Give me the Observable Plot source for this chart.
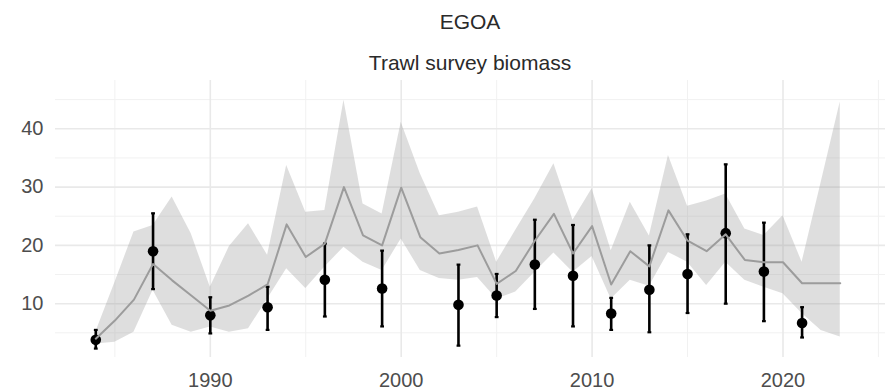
<!DOCTYPE html>
<html>
<head>
<meta charset="utf-8">
<script src="https://cdn.jsdelivr.net/npm/d3@7"></script>
<script src="https://cdn.jsdelivr.net/npm/@observablehq/plot@0.6"></script>
<style>
  html, body { margin: 0; padding: 0; background: #fff; }
  #wrap { position: relative; width: 885px; height: 390px; overflow: hidden; font-family: "Liberation Sans", Arial, sans-serif; }
  .ttl { position: absolute; left: 55px; width: 830px; text-align: center; font-size: 21px; line-height: 21px; color: #2a2a2a; white-space: nowrap; }
  #title { top: 11px; }
  #subtitle { top: 52px; }
  #chart { position: absolute; left: 0; top: 80px; }
</style>
</head>
<body>
<div id="wrap">
  <div id="title" class="ttl">EGOA</div>
  <div id="subtitle" class="ttl">Trawl survey biomass</div>
  <div id="chart"></div>
</div>
<script>
// Model estimate (grey line) and its interval (ribbon), annual
const modelYears = [1984,1985,1986,1987,1988,1989,1990,1991,1992,1993,1994,1995,1996,1997,1998,1999,2000,2001,2002,2003,2004,2005,2006,2007,2008,2009,2010,2011,2012,2013,2014,2015,2016,2017,2018,2019,2020,2021,2022,2023];
const modelEst   = [4.0,7.1,10.7,16.8,14.0,11.4,8.8,9.7,11.4,13.3,23.6,18.0,20.3,30.0,21.7,20.0,29.9,21.4,18.6,19.2,20.0,13.4,15.6,20.8,25.4,18.6,23.3,13.3,19.0,16.4,26.0,20.8,19.0,21.9,17.5,17.1,17.1,13.5,13.5,13.5];
const modelUpper = [5.1,13.6,22.3,23.4,28.3,22.0,12.8,19.8,23.7,18.3,33.7,25.7,26.0,44.9,27.1,25.4,41.1,32.3,25.1,25.7,26.6,17.1,22.6,28.0,34.0,24.3,29.7,19.1,27.4,21.6,35.4,26.7,27.6,28.8,22.8,21.7,25.1,17.1,30.8,44.6];
const modelLower = [3.1,3.4,5.1,12.3,6.3,5.1,6.0,5.1,5.7,10.8,16.0,12.6,16.3,19.7,17.1,15.7,21.1,15.7,14.3,14.0,14.5,10.8,12.0,15.4,18.7,15.4,18.1,10.8,14.0,13.0,18.8,17.1,13.1,17.1,14.0,12.8,11.7,8.3,5.4,4.3];

// Survey observations (black points with error bars)
const surveyYears = [1984,1987,1990,1993,1996,1999,2003,2005,2007,2009,2011,2013,2015,2017,2019,2021];
const surveyObs   = [3.8,19.0,8.0,9.4,14.1,12.6,9.8,11.4,16.7,14.8,8.3,12.4,15.1,22.1,15.5,6.7];
const surveyLo    = [2.3,12.5,4.9,5.5,7.8,6.1,2.8,7.7,9.1,6.1,5.5,5.1,8.4,10.0,7.0,4.2];
const surveyHi    = [5.5,25.5,11.1,12.9,20.3,19.1,16.7,15.1,24.4,23.5,11.0,20.0,21.9,33.9,23.9,9.4];

// Axis ticks / gridlines
const xTicks = [1990, 2000, 2010, 2020];
const xMinor = [1985, 1995, 2005, 2015, 2025];
const yTicks = [10, 20, 30, 40];
const yMinor = [5, 15, 25, 35, 45];

const model = modelYears.map((year, i) => ({year, est: modelEst[i], hi: modelUpper[i], lo: modelLower[i]}));
const survey = surveyYears.map((year, i) => ({year, obs: surveyObs[i], lo: surveyLo[i], hi: surveyHi[i]}));

const capHalf = 0.1;

const chart = Plot.plot({
  width: 885,
  height: 310,
  marginTop: 0,
  marginBottom: 33,
  marginLeft: 55,
  marginRight: 0,
  style: {fontFamily: "'Liberation Sans', Arial, sans-serif", fontSize: "20px", color: "#4d4d4d", background: "#fff", overflow: "visible"},
  x: {domain: [1981.89, 2025.37], ticks: xTicks, tickFormat: d => String(d), label: null, tickSize: 0, tickPadding: 15},
  y: {domain: [0.77, 48.28], ticks: yTicks, label: null, tickSize: 0, tickPadding: 12},
  marks: [
    Plot.ruleY(yMinor, {stroke: "#f1f1f1", strokeWidth: 1}),
    Plot.ruleX(xMinor, {stroke: "#f1f1f1", strokeWidth: 1}),
    Plot.ruleY(yTicks, {stroke: "#e9e9e9", strokeWidth: 1.6}),
    Plot.ruleX(xTicks, {stroke: "#e9e9e9", strokeWidth: 1.6}),
    Plot.areaY(model, {x: "year", y1: "lo", y2: "hi", fill: "#999", fillOpacity: 0.32}),
    Plot.ruleX(survey, {x: "year", y1: "lo", y2: "hi", stroke: "#000", strokeWidth: 2.6}),
    Plot.link(survey, {x1: d => d.year - capHalf, x2: d => d.year + capHalf, y1: "hi", y2: "hi", stroke: "#000", strokeWidth: 2.2}),
    Plot.link(survey, {x1: d => d.year - capHalf, x2: d => d.year + capHalf, y1: "lo", y2: "lo", stroke: "#000", strokeWidth: 2.2}),
    Plot.dot(survey, {x: "year", y: "obs", r: 5.3, fill: "#000", stroke: "none"}),
    Plot.line(model, {x: "year", y: "est", stroke: "#9c9c9c", strokeWidth: 2})
  ]
});
document.getElementById("chart").appendChild(chart);
</script>
</body>
</html>
